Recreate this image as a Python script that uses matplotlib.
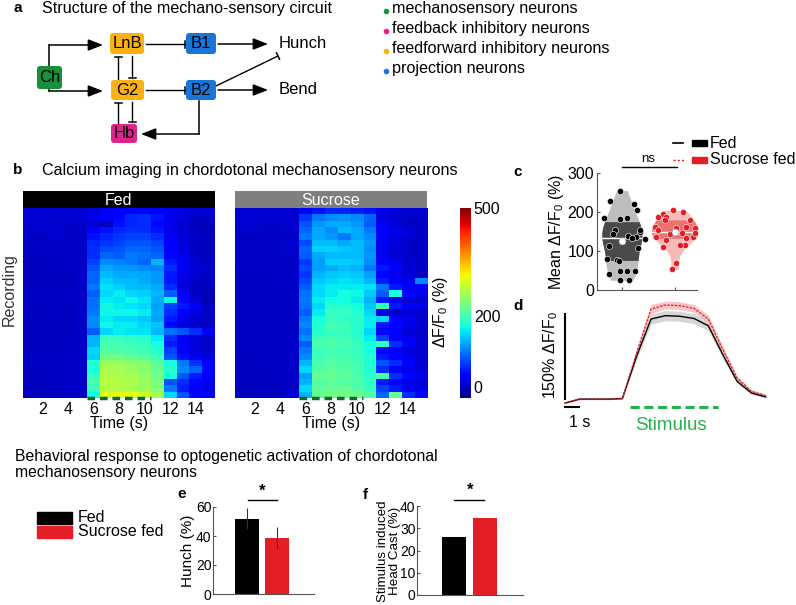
import numpy as np
import matplotlib
matplotlib.use('Agg')
import matplotlib.pyplot as plt
from matplotlib.patches import FancyBboxPatch, Rectangle

plt.rcParams['font.family'] = ['Liberation Sans', 'DejaVu Sans']
plt.rcParams['mathtext.default'] = 'regular'

W, H = 796, 605

# ---- data ----
time_s = np.arange(1, 16)

fed_heat = [
    [10, 12, 10, 8, 8, 15, 25, 30, 35, 35, 30, 20, 15, 10, 10],
    [8, 10, 8, 8, 6, 20, 35, 40, 55, 60, 45, 25, 15, 5, 5],
    [6, 8, 6, 6, 5, 10, 0, 45, 55, 60, 40, 20, 5, 0, 0],
    [5, 6, 8, 5, 5, 30, 45, 55, 60, 60, 45, 20, 10, 0, -5],
    [5, 5, 5, 5, 5, 45, 55, 65, 70, 70, 60, 25, 10, 5, 0],
    [5, 5, 5, 5, 5, 55, 65, 70, 80, 80, 70, 30, 15, 5, 0],
    [3, 5, 5, 5, 5, 60, 75, 80, 90, 90, 80, 30, 15, 5, 0],
    [3, 3, 5, 5, 5, 60, 90, 85, 100, 95, 90, 40, 20, 5, 0],
    [0, 3, 5, 5, 5, 70, 110, 105, 100, 90, 130, 50, 25, 10, 5],
    [0, 0, 3, 5, 5, 80, 125, 115, 115, 110, 105, 60, 25, 10, 5],
    [0, 0, 0, 3, 5, 90, 135, 125, 125, 125, 115, 50, 20, 10, 5],
    [0, 0, 0, 3, 5, 90, 145, 135, 135, 125, 115, 50, 15, 5, 0],
    [0, 0, 0, 3, 5, 100, 155, 145, 135, 135, 125, 60, 15, 5, 0],
    [3, 3, 3, 5, 5, 85, 150, 160, 150, 145, 130, 85, 25, 5, -5],
    [3, 3, 3, 3, 5, 95, 160, 155, 165, 155, 125, 165, 35, 10, -5],
    [3, 3, 3, 3, 5, 95, 165, 160, 155, 150, 120, 70, 50, 25, 5],
    [0, 3, 3, 3, 5, 100, 165, 165, 165, 160, 125, 60, 35, 15, 5],
    [0, 0, 3, 3, 5, 110, 160, 150, 150, 140, 120, 50, 25, 10, 5],
    [0, 0, 0, 3, 5, 110, 165, 160, 160, 150, 140, 40, 15, 5, 0],
    [0, 0, 0, 3, 5, 85, 150, 160, 155, 155, 130, 95, 80, 60, 25],
    [0, 0, 0, 3, 5, 130, 190, 190, 185, 180, 160, 60, 25, 15, 5],
    [0, 0, 0, 3, 5, 130, 200, 200, 195, 190, 170, 50, 25, 15, 5],
    [3, 3, 3, 5, 5, 150, 210, 205, 200, 195, 180, 70, 35, 15, 5],
    [3, 3, 3, 5, 5, 145, 225, 225, 220, 210, 190, 80, 45, 25, 15],
    [0, 3, 3, 5, 5, 180, 255, 250, 245, 240, 215, 170, 100, 60, 30],
    [0, 3, 3, 5, 5, 170, 265, 260, 255, 245, 220, 180, 110, 90, 40],
    [0, 0, 3, 5, 5, 190, 270, 265, 260, 250, 230, 170, 80, 50, 30],
    [0, 0, 3, 5, 5, 200, 275, 270, 265, 255, 235, 80, 60, 40, 20],
    [0, 0, 3, 5, 5, 190, 270, 270, 265, 255, 240, 100, 50, 30, 20],
    [3, 3, 5, 5, 5, 170, 300, 305, 300, 290, 260, 150, 80, 40, 30],
]

sucrose_heat = [
    [10, 10, 8, 8, 8, 25, 45, 55, 55, 50, 45, 20, 15, 10, 10],
    [10, 8, 8, 8, 8, 65, 100, 110, 115, 110, 90, 15, 10, 5, 5],
    [8, 8, 5, 5, 8, 80, 115, 125, 125, 115, 85, 25, 10, 5, 5],
    [5, 5, 5, 5, 5, 90, 125, 110, 135, 125, 100, 35, 20, 10, 5],
    [5, 5, 5, 5, 5, 100, 125, 115, 100, 125, 110, 25, 15, 10, 5],
    [5, 5, 5, 5, 10, 75, 135, 135, 125, 135, 115, 25, 15, 5, 5],
    [5, 5, 5, 5, 10, 90, 145, 145, 140, 135, 110, 20, 10, 5, 5],
    [5, 5, 5, 5, 5, 85, 125, 135, 135, 135, 115, 25, 10, 5, 5],
    [3, 5, 5, 5, 5, 65, 120, 145, 145, 140, 110, 35, 20, 10, 5],
    [3, 5, 5, 5, 5, 75, 120, 125, 135, 130, 100, 50, 30, 10, 5],
    [3, 3, 5, 5, 5, 65, 130, 140, 145, 140, 120, 40, 20, 10, 0],
    [3, 3, 5, 5, 5, 75, 140, 150, 155, 150, 130, 50, 30, 20, 110],
    [3, 3, 3, 5, 5, 85, 150, 160, 160, 160, 155, 100, 50, 30, 30],
    [3, 3, 3, 5, 5, 95, 150, 160, 170, 165, 140, 85, 170, 40, 20],
    [3, 3, 3, 3, 5, 100, 160, 170, 170, 160, 130, 50, 20, 10, 10],
    [3, 3, 3, 3, 5, 95, 150, 180, 180, 170, 140, 190, 50, 30, 20],
    [3, 3, 3, 3, 5, 85, 160, 190, 190, 180, 150, 15, 10, 10, 5],
    [3, 3, 3, 3, 5, 100, 170, 190, 185, 180, 160, 150, 30, 20, 10],
    [3, 3, 3, 3, 5, 110, 180, 200, 195, 180, 160, 50, 40, 20, 10],
    [3, 3, 3, 3, 5, 95, 180, 190, 190, 180, 150, 40, 30, 10, 5],
    [3, 3, 3, 3, 5, 110, 195, 200, 195, 185, 160, 70, 40, 20, 10],
    [3, 3, 3, 3, 5, 85, 200, 205, 200, 190, 170, 185, 60, 30, 10],
    [3, 3, 3, 3, 5, 100, 195, 200, 195, 190, 170, 40, 30, 15, 10],
    [0, 3, 3, 3, 5, 110, 195, 205, 200, 195, 180, 50, 40, 20, 10],
    [0, 3, 3, 3, 5, 130, 200, 210, 205, 195, 175, 80, 60, 30, 10],
    [0, 3, 3, 3, 5, 150, 210, 215, 210, 200, 180, 60, 40, 20, 10],
    [0, 0, 3, 3, 5, 120, 220, 220, 215, 205, 185, 200, 60, 40, 20],
    [0, 0, 3, 3, 5, 130, 210, 215, 210, 205, 185, 50, 40, 20, 10],
    [0, 0, 3, 3, 5, 150, 215, 220, 220, 210, 190, 70, 50, 30, 20],
    [0, 3, 3, 3, 15, 130, 220, 230, 230, 225, 210, 90, 220, 60, 40],
]

# panel c: per-larva mean dF/F0 and horizontal scatter offset
fed_mean = [255, 229, 220, 204, 184, 183, 184, 153, 143, 139, 148, 135, 131,
            153, 133, 113, 107, 77, 79, 75, 50, 50, 50, 40, 25, 25]
fed_jit = [-0.04, -0.23, 0.23, 0.29, -0.34, -0.04, 0.09, -0.13, -0.16, 0.11,
           0.34, 0.26, 0.43, 0.35, 0.20, -0.24, 0.31, -0.09, -0.29, -0.05,
           -0.04, 0.09, 0.25, -0.24, -0.04, 0.14]
suc_mean = [204, 201, 195, 187, 187, 180, 180, 161, 159, 161, 159, 137, 129,
            110, 116, 116, 135, 146, 144, 69, 53, 154, 146, 133]
suc_jit = [-0.03, 0.16, -0.22, -0.31, -0.16, 0.28, -0.19, -0.38, 0.03, 0.22,
           0.38, -0.35, -0.16, -0.22, 0.19, 0.09, 0.35, 0.38, -0.09, 0.03,
           -0.06, -0.31, 0.13, 0.22]

# panel d: average traces (% dF/F0), 1 sample per second
trace_t = np.arange(15)
fed_trace = [-7, 0, 0, 0, 1, 77, 143, 149, 148, 144, 131, 80, 32, 11, 4]
fed_sem = [1, 1, 1, 1, 1, 6, 9, 9, 9, 9, 9, 7, 4, 2, 2]
suc_trace = [-7, 0, 0, 0, 1, 83, 161, 168, 167, 162, 143, 89, 38, 14, 6]
suc_sem = [1, 1, 1, 1, 1, 6, 8, 7, 7, 7, 7, 6, 4, 3, 3]

# panels e, f
groups = ['Fed', 'Sucrose fed']
hunch = [52, 38.5]
hunch_err = [7, 7.5]
head_cast = [26, 34.5]

red = '#e31e26'
green = '#22b14c'

fig = plt.figure(figsize=(W / 100, H / 100), dpi=100)


def px_axes(x0, y0, x1, y1):
    return fig.add_axes([x0 / W, 1 - y1 / H, (x1 - x0) / W, (y1 - y0) / H])


# overlay in pixel coordinates for the diagram and labels
ov = fig.add_axes([0, 0, 1, 1], zorder=5)
ov.set_xlim(0, W)
ov.set_ylim(H, 0)
ov.axis('off')


def arrow(pts):
    for (xa, ya), (xb, yb) in zip(pts[:-2], pts[1:-1]):
        ov.plot([xa, xb], [ya, yb], color='k', lw=1.1)
    ov.annotate('', xy=pts[-1], xytext=pts[-2],
                arrowprops=dict(arrowstyle='-|>,head_length=0.9,head_width=0.35',
                                color='k', lw=1.1, shrinkA=0, shrinkB=0,
                                mutation_scale=10))


def inhib(p0, p1, s=3.5):
    ov.plot([p0[0], p1[0]], [p0[1], p1[1]], color='k', lw=1.0)
    d = np.array(p1, float) - np.array(p0, float)
    d /= np.hypot(*d)
    n = np.array([-d[1], d[0]]) * s
    ov.plot([p1[0] - n[0], p1[0] + n[0]], [p1[1] - n[1], p1[1] + n[1]], color='k', lw=1.1)


def box(x0, y0, x1, y1, c, label):
    ov.add_patch(FancyBboxPatch((x0, y0), x1 - x0, y1 - y0,
                                boxstyle='round,pad=0,rounding_size=3',
                                fc=c, ec='none', zorder=3))
    ov.text((x0 + x1) / 2, (y0 + y1) / 2 + 0.5, label, ha='center', va='center',
            fontsize=12, zorder=4)


# ---- panel a ----
c_mech, c_fb, c_ff, c_proj = '#17913a', '#e0238b', '#fbb116', '#1b75d8'
ov.text(13, 8, 'a', fontsize=11, fontweight='bold', va='center')
ov.text(42, 8, 'Structure of the mechano-sensory circuit', fontsize=11.6, va='center')

ov.plot([49, 49], [45, 91], color='k', lw=1.1)
arrow([(49, 45), (103, 45)])
arrow([(49, 91), (103, 91)])
inhib((146, 44), (185, 44))
inhib((146, 90), (185, 90))
arrow([(218, 44), (268, 44)])
arrow([(218, 90), (268, 90)])
inhib((216, 86), (278, 56))
inhib((118, 79), (118, 57))
inhib((132, 56), (132, 78))
inhib((118, 123), (118, 103))
inhib((132, 102), (132, 122))
arrow([(199, 101), (199, 134), (141, 134)])

box(37, 66, 62, 89, c_mech, 'Ch')
box(110, 33, 144, 54, c_ff, 'LnB')
box(186, 33, 216, 54, c_proj, 'B1')
box(111, 80, 144, 100, c_ff, 'G2')
box(186, 80, 216, 100, c_proj, 'B2')
box(111, 124, 137, 143, c_fb, 'Hb')
ov.text(279, 44, 'Hunch', fontsize=12, va='center')
ov.text(279, 90, 'Bend', fontsize=12, va='center')

legend_names = ['mechanosensory neurons', 'feedback inhibitory neurons',
                'feedforward inhibitory neurons', 'projection neurons']
for i, (name, c) in enumerate(zip(legend_names, [c_mech, c_fb, c_ff, c_proj])):
    ov.plot(386, 11 + 20 * i, 'o', ms=4, color=c, mec='none')
    ov.text(392, 8 + 20 * i, name, fontsize=11.6, va='center')

# ---- panel b ----
ov.text(13, 170, 'b', fontsize=11, fontweight='bold', va='center')
ov.text(42, 170, 'Calcium imaging in chordotonal mechanosensory neurons',
        fontsize=11.6, va='center')

for (x0, x1), data, title, hc in [((23, 215), fed_heat, 'Fed', 'black'),
                                  ((235, 427), sucrose_heat, 'Sucrose', '#7f7f7f')]:
    hdr = px_axes(x0, 191, x1, 208)
    hdr.set_facecolor(hc)
    hdr.set_xticks([])
    hdr.set_yticks([])
    for s in hdr.spines.values():
        s.set_visible(False)
    hdr.text(0.5, 0.45, title, color='white', fontsize=11.5, ha='center', va='center',
             transform=hdr.transAxes)

    ax = px_axes(x0, 208, x1, 398)
    arr = np.array(data)
    im = ax.imshow(arr, cmap='jet', vmin=-30, vmax=500, aspect='auto',
                   interpolation='nearest',
                   extent=(time_s[0] - 0.5, time_s[-1] + 0.5, arr.shape[0] + 0.5, 0.5))
    ax.set_xticks(np.arange(2, 15, 2))
    ax.set_yticks([])
    ax.tick_params(length=0, labelsize=11.5, pad=3)
    for s in ax.spines.values():
        s.set_visible(False)
    ax.set_xlabel('Time (s)', fontsize=11.5, labelpad=-1)
    ax.plot([5.5, 10.5], [arr.shape[0] + 0.5] * 2, color='#0b6b2e', lw=2.5,
            ls=(0, (2.2, 1.4)), clip_on=False)

ov.text(9, 290, 'Recording', fontsize=11.5, rotation=90, ha='center', va='center',
        color='#333333')

cax = px_axes(460, 208, 471, 398)
cb = fig.colorbar(im, cax=cax, ticks=[0, 200, 500])
cb.outline.set_visible(False)
cax.tick_params(length=0, labelsize=11.5, pad=2)
ov.text(441, 312, 'ΔF/F$_0$ (%)', fontsize=11.5, rotation=90, ha='center', va='center')

# ---- panel c ----
ov.text(513, 172, 'c', fontsize=11, fontweight='bold', va='center')
axc = px_axes(597, 173, 697, 290)
axc.set_xlim(0.53, 2.42)
axc.set_ylim(0, 300)


def violin(ax, vals, jit, pos, half, c_out, c_band, c_pt):
    v = np.asarray(vals, float)
    bw = 1.06 * v.std() * len(v) ** -0.2
    y = np.linspace(v.min(), v.max(), 200)
    dens = np.exp(-0.5 * ((y[:, None] - v[None, :]) / bw) ** 2).sum(1)
    w = dens / dens.max() * half
    ax.fill_betweenx(y, pos - w, pos + w, color=c_out, lw=0)
    q1, med, q3 = np.percentile(v, [25, 50, 75])
    m = (y >= q1) & (y <= q3)
    ax.fill_betweenx(y[m], pos - w[m], pos + w[m], color=c_band, lw=0)
    wm = np.interp(med, y, w)
    ax.plot([pos - wm, pos + wm], [med, med], color='white', lw=1)
    ax.plot(pos + np.asarray(jit) * 1.0, v, 'o', ms=4.5, color=c_pt, mec='white',
            mew=0.4, clip_on=False, zorder=3)
    ax.plot(pos, v.mean(), 'o', ms=5, color='white', mec='#999999', mew=0.4, zorder=4)


violin(axc, fed_mean, fed_jit, 1, 0.38, '#bdbdbd', '#4a4a4a', 'black')
violin(axc, suc_mean, suc_jit, 2, 0.44, '#f7baba', '#f07070', red)
axc.set_xticks([1, 2])
axc.set_xticklabels([])
axc.set_yticks([0, 100, 200, 300])
axc.tick_params(direction='in', length=2, labelsize=11.5, pad=2, color='#555555')
axc.spines[['top', 'right']].set_visible(False)
for s in ['left', 'bottom']:
    axc.spines[s].set_color('#555555')
axc.set_ylabel('Mean ΔF/F$_0$ (%)', fontsize=11.5, labelpad=1)
axc.plot([1, 2.04], [315, 315], color='k', lw=1, clip_on=False)
axc.text(1.5, 320, 'ns', fontsize=9.5, ha='center', va='bottom')

# legend for c/d
ov.plot([673, 683], [143, 143], color='k', lw=1.2)
ov.add_patch(Rectangle((692, 140), 15, 6, color='black'))
ov.text(710, 143, 'Fed', fontsize=11.5, va='center')
ov.plot([673, 684], [160, 160], color=red, lw=1, ls=(0, (1.5, 1.5)))
ov.add_patch(Rectangle((692, 157), 15, 6, color=red))
ov.text(710, 160, 'Sucrose fed', fontsize=11.5, va='center')

# ---- panel d ----
ov.text(513, 306, 'd', fontsize=11, fontweight='bold', va='center')
axd = px_axes(558, 300, 775, 440)
axd.set_xlim(-0.49, 14.65)
axd.set_ylim(-73, 177)
axd.axis('off')
ft, fs_ = np.array(fed_trace), np.array(fed_sem)
st, ss_ = np.array(suc_trace), np.array(suc_sem)
axd.fill_between(trace_t, ft - fs_, ft + fs_, color='#bbbbbb', alpha=0.6, lw=0)
axd.fill_between(trace_t, st - ss_, st + ss_, color='#f5a3a3', alpha=0.6, lw=0)
axd.plot(trace_t, ft, color='k', lw=1)
axd.plot(trace_t, st, color=red, lw=0.9, ls=(0, (2, 1)))
axd.plot([0, 0], [0, 152], color='k', lw=1.5)
axd.plot([0, 1], [-14, -14], color='k', lw=1.5)
axd.text(1.0, -42, '1 s', fontsize=11.5, ha='center', va='center')
axd.plot([4.5, 10.7], [-14, -14], color=green, lw=2.2, ls=(0, (3, 1.5)))
axd.text(7.4, -48, 'Stimulus', color=green, fontsize=13.5, ha='center', va='center')
ov.text(551, 355, '150% ΔF/F$_0$', fontsize=11.5, rotation=90, ha='center', va='center')

# ---- behavior section ----
ov.text(15, 456, 'Behavioral response to optogenetic activation of chordotonal',
        fontsize=11.3, va='center')
ov.text(15, 472, 'mechanosensory neurons', fontsize=11.3, va='center')
ov.add_patch(Rectangle((37, 512), 35, 12, color='black'))
ov.add_patch(Rectangle((37, 526), 35, 12, color=red))
ov.text(78, 518, groups[0], fontsize=11.5, va='center')
ov.text(78, 532, groups[1], fontsize=11.5, va='center')


def bars(ax, vals, err=None):
    ax.bar([1, 2], vals, width=0.79, color=['black', red])
    if err is not None:
        ax.errorbar([1, 2], vals, yerr=err, fmt='none', ecolor='#333333',
                    elinewidth=0.8, capsize=0)
    ax.spines[['top', 'right']].set_visible(False)
    for s in ['left', 'bottom']:
        ax.spines[s].set_color('#555555')
    ax.set_xticks([])
    ax.tick_params(direction='in', length=2, labelsize=10, pad=1, color='#555555')


# e
ov.text(177, 494, 'e', fontsize=11, fontweight='bold', va='center')
axe = px_axes(213, 507, 314, 594)
bars(axe, hunch, hunch_err)
axe.set_xlim(-0.115, 3.2)
axe.set_ylim(0, 60)
axe.set_yticks([0, 20, 40, 60])
axe.set_ylabel('Hunch (%)', fontsize=11, labelpad=1)
axe.plot([1.03, 1.98], [64.8, 64.8], color='k', lw=1, clip_on=False)
axe.text(1.5, 66, '*', fontsize=12, fontweight='bold', ha='center', va='bottom')

# f
ov.text(363, 495, 'f', fontsize=11, fontweight='bold', va='center')
axf = px_axes(417, 506, 523, 595)
bars(axf, head_cast)
axf.set_xlim(-0.23, 3.25)
axf.set_ylim(0, 40)
axf.set_yticks([0, 10, 20, 30, 40])
ov.text(389, 551, 'Stimulus induced\nHead Cast (%)', fontsize=9.6, rotation=90,
        ha='center', va='center', linespacing=0.9)
axf.plot([1.0, 1.98], [42.7, 42.7], color='k', lw=1, clip_on=False)
axf.text(1.5, 43.5, '*', fontsize=12, fontweight='bold', ha='center', va='bottom')

fig.savefig('out.png', dpi=100)
